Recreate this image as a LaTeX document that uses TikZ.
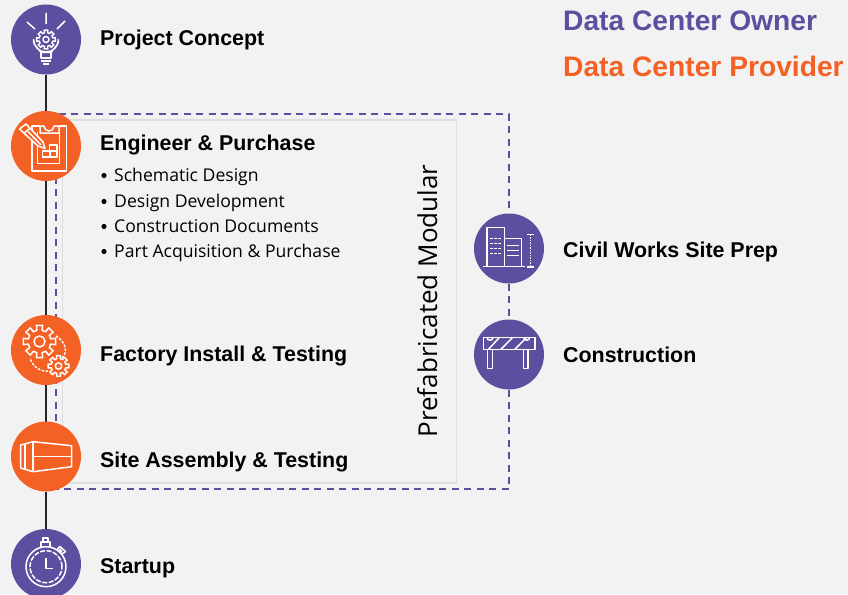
\documentclass[tikz,border=0pt]{standalone}
\usepackage{fontspec}
\setmainfont{Open Sans}
\newfontfamily\headfont{Liberation Sans}[BoldFont={Liberation Sans Bold}]
\usetikzlibrary{backgrounds}
\definecolor{dcowner}{HTML}{5B4F9F}
\definecolor{dcprov}{HTML}{F46124}
\definecolor{pagebg}{HTML}{F2F2F2}
\definecolor{boxline}{HTML}{DEDEDE}
\tikzset{
  disc/.style={circle,minimum size=70pt,inner sep=0pt,outer sep=0pt},
  ownerdisc/.style={disc,fill=dcowner},
  provdisc/.style={disc,fill=dcprov},
  label/.style={anchor=base west,inner sep=0pt,font=\headfont\bfseries\fontsize{21.4}{26}\selectfont,text=black},
  legend/.style={anchor=base west,inner sep=0pt,font=\headfont\bfseries\fontsize{28.2}{30}\selectfont},
  item/.style={anchor=base west,inner sep=0pt,font=\fontsize{17.6}{20}\selectfont,text=black},
  dashlink/.style={draw=dcowner,line width=1.7pt,dash pattern=on 7pt off 5.5pt},
  solidlink/.style={draw=black!85,line width=1.6pt},
  ico/.style={draw=white,line width=1.5pt,line join=round}
}
\newcommand{\gearshape}[5]{% cx cy rout rin fill
  \draw[ico,fill=#5] ({#1+#4*cos(-32)},{#2+#4*sin(-32)})
  \foreach \k in {0,45,...,315}{
    -- ({#1+#4*cos(\k-13)},{#2+#4*sin(\k-13)})
    -- ({#1+#3*cos(\k-11)},{#2+#3*sin(\k-11)})
    -- ({#1+#3*cos(\k+11)},{#2+#3*sin(\k+11)})
    -- ({#1+#4*cos(\k+13)},{#2+#4*sin(\k+13)})
  } -- cycle;
}
\begin{document}
\begin{tikzpicture}[x=1pt,y=-1pt]
\useasboundingbox (0,0) rectangle (848,594);
% discs
\node[ownerdisc] (concept) at (46,39.5) {};
\node[provdisc] (engineer) at (46,146) {};
\node[provdisc] (factory) at (46,350) {};
\node[provdisc] (assembly) at (46,456.5) {};
\node[ownerdisc] (startup) at (46,564) {};
\node[ownerdisc] (civil) at (509,248.5) {};
\node[ownerdisc] (constr) at (509,354.5) {};
% helper corners
\coordinate (tl) at (46,114);
\coordinate (tr) at (509,114);
\coordinate (br) at (509,489);
\coordinate (bl) at (46,489);
\coordinate (il) at (56,114);
\coordinate (ib) at (56,489);
\begin{pgfonlayer}{background}
  \fill[pagebg] (0,0) rectangle (848,594);
  \draw[dashlink] (tl) -- (tr) -- (civil);
  \draw[dashlink] (civil) -- (constr);
  \draw[dashlink] (constr) -- (br) -- (bl);
  \draw[dashlink] (il) -- (ib);
  \node[draw=boxline,line width=1.2pt,fill=pagebg,inner sep=0pt,minimum width=394pt,minimum height=363pt] (box) at (259.5,301.5) {};
  \draw[solidlink] (concept) -- (engineer);
  \draw[solidlink] (engineer) -- (factory);
  \draw[solidlink] (factory) -- (assembly);
  \draw[solidlink] (assembly) -- (startup);
\end{pgfonlayer}
% text
\node[label] (t1) at (100,46) {Project Concept};
\node[label] (t2) at (100,150) {Engineer \& Purchase};
\node[label] (t3) at (100,361) {Factory Install \& Testing};
\node[label] (t4) at (100,467) {Site Assembly \& Testing};
\node[label] (t5) at (100,573) {Startup};
\node[label] (t6) at (563,257) {Civil Works Site Prep};
\node[label] (t7) at (563,362) {Construction};
\node[legend,text=dcowner] (l1) at (563,31) {Data Center Owner};
\node[legend,text=dcprov] (l2) at (563,76) {Data Center Provider};
\foreach \yy/\tx in {181/Schematic Design,207/Design Development,232/Construction Documents,257/Part Acquisition \& Purchase}{
  \fill[black] (104,\yy-5.5) circle (2.6pt);
  \node[item] at (114,\yy) {\tx};
}
\node[anchor=base,rotate=90,inner sep=0pt,font=\fontsize{26}{30}\selectfont,text=black] (pm) at (437,301) {Prefabricated Modular};
% bulb icon
\draw[ico] (46,13)--(46,24) (27,22)--(35,29) (65,21)--(57,29);
\draw[ico] (41,52.5) .. controls (38,47.5) and (33,45.5) .. (33.5,39.5) arc (180:0:12.5) .. controls (59,45.5) and (54,47.5) .. (51,52.5) -- cycle;
\draw[ico] (41,52.5) rectangle (51,58) (41,61) -- (51,61) (43,64) -- (49,64);
\gearshape{46}{39.5}{9.5}{7}{dcowner}
\draw[ico] (46,39.5) circle (3pt);
% clipboard icon
\draw[ico] (40,126) -- (32,126) -- (32,171) -- (66.5,171) -- (66.5,126) -- (59,126);
\draw[ico] (37.3,131.7) -- (37.3,163.3) -- (59.3,163.3) -- (59.3,131.7);
\draw[ico,fill=dcprov] (40,133) -- (40,126) -- (44,126) arc (180:0:5) -- (59,126) -- (59,133) -- cycle;
\draw[ico] (42.5,151) rectangle (57,157) (49.5,145) rectangle (57,151) (50,151) -- (50,157);
\draw[ico,fill=dcprov] (19.5,129) -- (26,124) -- (43,142) -- (45,148.5) -- (38,146) -- cycle;
\draw[ico] (23.5,133.5) -- (30,128.3);
\draw[ico] (28,131.5) -- (41,145);
% gears
\draw[ico,dash pattern=on 2.5pt off 1.5pt] (56,336) .. controls (66,342) and (68,352) .. (62,358) (48,371) .. controls (42,372) and (33,368) .. (30,358);
\gearshape{39.5}{341.5}{16.5}{11.5}{dcprov}
\draw[ico] (39.5,341.5) circle (5.5pt);
\gearshape{58.5}{366}{10.5}{7.5}{dcprov}
\draw[ico] (58.5,366) circle (3.2pt);
% container
\draw[ico] (33,441.7) -- (71.7,445.7) -- (71.7,466.7) -- (33,471.7) -- (20.7,468) -- (20.7,445) -- cycle;
\draw[ico] (33,441.7) -- (33,471.7) (25,443.5) -- (25,469.5) (33,456.7) -- (71.7,456.7);
% stopwatch
\draw[ico] (46,566.7) circle (20pt);
\draw[ico,dash pattern=on 5pt off 1.5pt] (46,566.7) circle (16pt);
\draw[ico] (41,546.5) -- (41,542) -- (50,542) -- (50,546.5) (43,542) -- (43,538) -- (48,538) -- (48,542);
\draw[ico] (59.5,549) -- (62,551.5) (60,546.5) -- (65.5,551.5) -- (62,554) -- (57,549.5) -- cycle;
\draw[ico] (46,558) -- (46,568.5) -- (52.5,568.5);
% buildings
\draw[ico] (483.3,266.7) -- (525,266.7);
\draw[ico] (487,266.7) -- (487,227.7) -- (504.7,227.7) -- (504.7,266.7);
\draw[ico] (504.7,238.3) -- (521.7,238.3) -- (521.7,266.7);
\foreach \yy in {238.7,243.7,248.7,253.7}{\draw[ico,dash pattern=on 3pt off 1pt] (490,\yy) -- (501.7,\yy);}
\foreach \yy in {245.3,250.7,255.7}{\draw[ico] (506.7,\yy) -- (519,\yy);}
\draw[ico] (526.7,234.7) -- (534.3,234.7) (526.7,267) -- (534.3,267);
\draw[ico,dash pattern=on 1.5pt off 1pt] (530.3,234.7) -- (530.3,267);
% barrier
\draw[ico] (483.3,337.3) rectangle (535,349.3);
\draw[ico] (487.7,349.3) rectangle (492.3,368.7) (523.3,349.3) rectangle (528,368.7);
\draw[ico] (488.5,349.3) -- (499.5,337.3) (501,349.3) -- (512.7,337.3) (515,349.3) -- (526.7,337.3);
\draw[ico] (487,337.3) arc (180:0:3) (523.7,337.3) arc (180:0:3);
\end{tikzpicture}
\end{document}
